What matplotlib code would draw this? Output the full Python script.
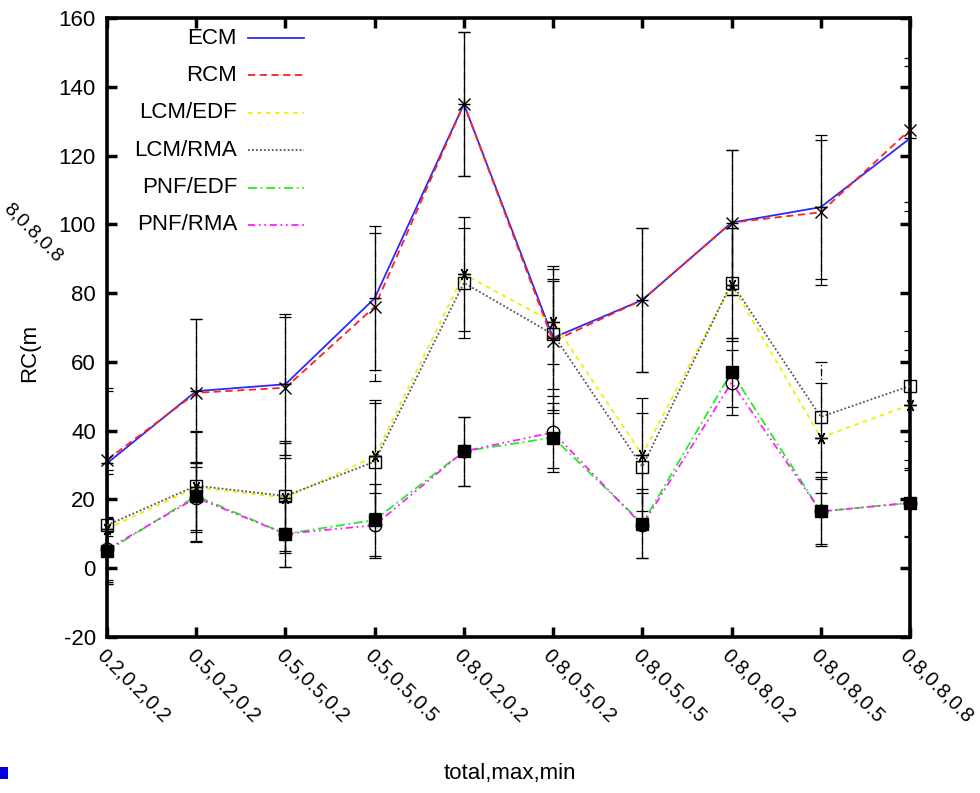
import matplotlib
matplotlib.use('Agg')
import matplotlib.pyplot as plt
import matplotlib.transforms as mtransforms
from matplotlib.lines import Line2D
from matplotlib.patches import Rectangle
import numpy as np

plt.rcParams['font.family'] = ['Liberation Sans', 'DejaVu Sans']
plt.rcParams['axes.unicode_minus'] = False

# categories (total,max,min)
labels = ['0.2,0.2,0.2', '0.5,0.2,0.2', '0.5,0.5,0.2', '0.5,0.5,0.5', '0.8,0.2,0.2',
          '0.8,0.5,0.2', '0.8,0.5,0.5', '0.8,0.8,0.2', '0.8,0.8,0.5', '0.8,0.8,0.8']

series_names = ['ECM', 'RCM', 'LCM/EDF', 'LCM/RMA', 'PNF/EDF', 'PNF/RMA']

ecm = [30.5, 51.5, 53.5, 78.5, 135, 67, 78, 100.5, 105, 125]
rcm = [31.5, 51, 52.5, 76, 135, 66, 78, 100.5, 103.5, 127.5]
lcm_edf = [11.5, 23.5, 20.5, 32.5, 85.5, 71.5, 33, 82.5, 38, 47.5]
lcm_rma = [12.5, 24, 21, 31, 83, 68, 29.5, 83, 44, 53]
pnf_edf = [5, 21, 10, 14, 34, 38, 13, 57, 16.5, 19]
pnf_rma = [5.5, 20.5, 10, 12.5, 34, 39.5, 12.5, 54, 16.5, 19]

ecm_err = [21, 21, 20.5, 21, 21, 21, 21, 21, 21, 21]
rcm_err = [21, 21.5, 20.5, 21.5, 21, 21, 21, 21, 21, 21]
lcm_edf_err = [16, 16, 16, 16.5, 16.5, 12, 16.5, 16.5, 16, 16]
lcm_rma_err = [16, 16, 16, 17, 16, 16, 15.5, 16, 16, 16]
pnf_edf_err = [9.5, 10, 9.5, 10.5, 10, 10, 10, 10, 10, 10]
pnf_rma_err = [9.5, 10, 9.5, 9.5, 10, 10.5, 9.5, 9.5, 9.5, 9.5]

values = [ecm, rcm, lcm_edf, lcm_rma, pnf_edf, pnf_rma]
errors = [ecm_err, rcm_err, lcm_edf_err, lcm_rma_err, pnf_edf_err, pnf_rma_err]

colors = ['#2a2aff', '#ff2020', '#f0f000', '#555555', '#20ee20', '#ff20ff']
styles = ['-', (0, (4, 2.5)), (0, (2.5, 2.5)), (0, (1, 1.2)), (0, (5, 2, 1, 2)), (0, (4, 2, 1, 2, 1, 2))]
err_styles = ['-', (0, (6, 2, 1, 2)), '-', (0, (6, 2, 1, 2)), '-', (0, (6, 2, 1, 2))]
markers = ['+', 'x', (6, 2, 90), 's', 's', 'o']
mfill = ['none', 'none', 'none', 'none', 'black', 'none']

fs = 16

fig = plt.figure(figsize=(9.8, 7.93), dpi=100)
ax = fig.add_axes([107 / 980, 1 - 637 / 793, 803 / 980, 619 / 793])

x = np.arange(len(labels))

for i in range(len(values)):
    eb = ax.errorbar(x, values[i], yerr=errors[i], fmt='none', ecolor='black',
                     elinewidth=0.9, capsize=4, capthick=0.9, zorder=2)
    for lc in eb[2]:
        lc.set_linestyle(err_styles[i])

for i in range(len(values)):
    ax.plot(x, values[i], color=colors[i], linestyle=styles[i], lw=1.3, zorder=3)
    ax.plot(x, values[i], linestyle='none', marker=markers[i], markersize=9,
            markerfacecolor=mfill[i], markeredgecolor='black', markeredgewidth=1.0,
            zorder=4, clip_on=False)

ax.set_xlim(0, 9)
ax.set_ylim(-20, 160)
ax.set_yticks(np.arange(-20, 161, 20))
ax.set_xticks(x)
ax.set_xticklabels(labels, rotation=-45, ha='left', va='top', rotation_mode='anchor',
                   fontsize=14.5)
shift = mtransforms.ScaledTranslation(4 / 100, 0, fig.dpi_scale_trans)
for lab in ax.get_xticklabels():
    lab.set_transform(lab.get_transform() + shift)

for s in ax.spines.values():
    s.set_linewidth(2.6)
ax.tick_params(direction='in', length=7, width=2.5, top=True, right=True, pad=8)
ax.tick_params(axis='y', labelsize=fs)
ax.tick_params(axis='x', pad=6)

# legend drawn gnuplot-style: right-aligned text, sample line after it
for i, name in enumerate(series_names):
    yy = (637 - (38 + i * 37.4)) / 619
    ax.text(0.162, yy, name, transform=ax.transAxes, ha='right', va='center', fontsize=fs)
    ax.add_line(Line2D([0.1756, 0.2453], [yy, yy], transform=ax.transAxes,
                       color=colors[i], linestyle=styles[i], lw=1.3))

fig.text(510 / 980, 1 - 773 / 793, 'total,max,min', ha='center', va='center', fontsize=fs)
fig.text(30 / 980, 1 - 382 / 793, 'RC(m', rotation=90, ha='center', va='bottom', fontsize=fs)
fig.text(12 / 980, 1 - 200 / 793, '8,0.8,0.8', rotation=-45, ha='left', va='top',
         rotation_mode='anchor', fontsize=14)
fig.patches.append(Rectangle((0, 1 - 779 / 793), 8 / 980, 12 / 793, transform=fig.transFigure,
                             facecolor='#0000dd', edgecolor='none'))

fig.savefig('out.png', dpi=100)
